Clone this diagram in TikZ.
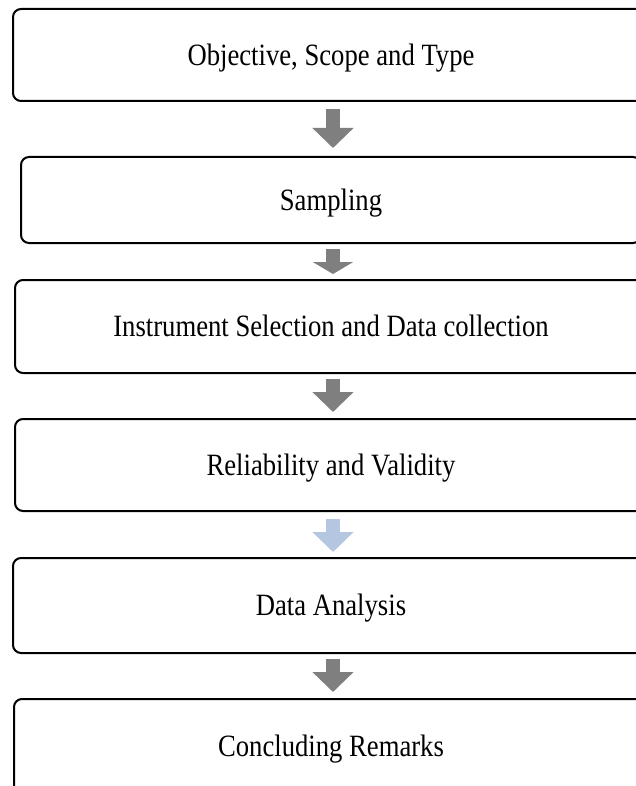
\documentclass[tikz,border=0pt]{standalone}
\usepackage{fontspec}
\setmainfont{Liberation Serif}[FakeStretch=0.86]
\usetikzlibrary{arrows.meta}
\definecolor{arrowgray}{HTML}{7F7F7F}
\definecolor{arrowblue}{HTML}{B4C6E0}
\tikzset{
  stepbox/.style={draw=black, line width=2pt, rounded corners=8pt, fill=white,
    inner sep=0pt, font=\fontsize{31}{36}\selectfont, text height=20.5pt, text depth=0pt},
  blockarrow/.style={draw=#1, line width=14pt,
    -{Triangle[width=40pt,length=20pt,fill=#1,color=#1]}},
  blockarrow/.default=arrowgray
}
\begin{document}
\begin{tikzpicture}[x=1pt,y=-1pt]
\useasboundingbox (0,0) rectangle (636,786);
\clip (0,0) rectangle (636,786);
\fill[white] (0,0) rectangle (636,786);
\node[stepbox, minimum width=636pt, minimum height=92pt] (b1) at (331,55) {Objective, Scope and Type};
\node[stepbox, minimum width=620pt, minimum height=86pt] (b2) at (331,200) {Sampling};
\node[stepbox, minimum width=632pt, minimum height=93pt] (b3) at (331,326.5) {Instrument Selection and Data collection};
\node[stepbox, minimum width=632pt, minimum height=92pt] (b4) at (331,465) {Reliability and Validity};
\node[stepbox, minimum width=636pt, minimum height=95pt] (b5) at (331,605.5) {Data Analysis};
\node[stepbox, minimum width=634pt, minimum height=94pt] (b6) at (331,746) {Concluding Remarks};
\draw[blockarrow] ([xshift=2pt,yshift=-7pt]b1.south) -- ([xshift=2pt,yshift=8pt]b2.north);
\draw[draw=arrowgray, line width=14pt, -{Triangle[width=40pt,length=12pt,fill=arrowgray,color=arrowgray]}] ([xshift=2pt,yshift=-5pt]b2.south) -- ([xshift=2pt,yshift=5pt]b3.north);
\draw[blockarrow] ([xshift=2pt,yshift=-5pt]b3.south) -- ([xshift=2pt,yshift=6pt]b4.north);
\draw[blockarrow=arrowblue] ([xshift=2pt,yshift=-7pt]b4.south) -- ([xshift=2pt,yshift=5pt]b5.north);
\draw[blockarrow] ([xshift=2pt,yshift=-5pt]b5.south) -- ([xshift=2pt,yshift=6pt]b6.north);
\end{tikzpicture}
\end{document}
